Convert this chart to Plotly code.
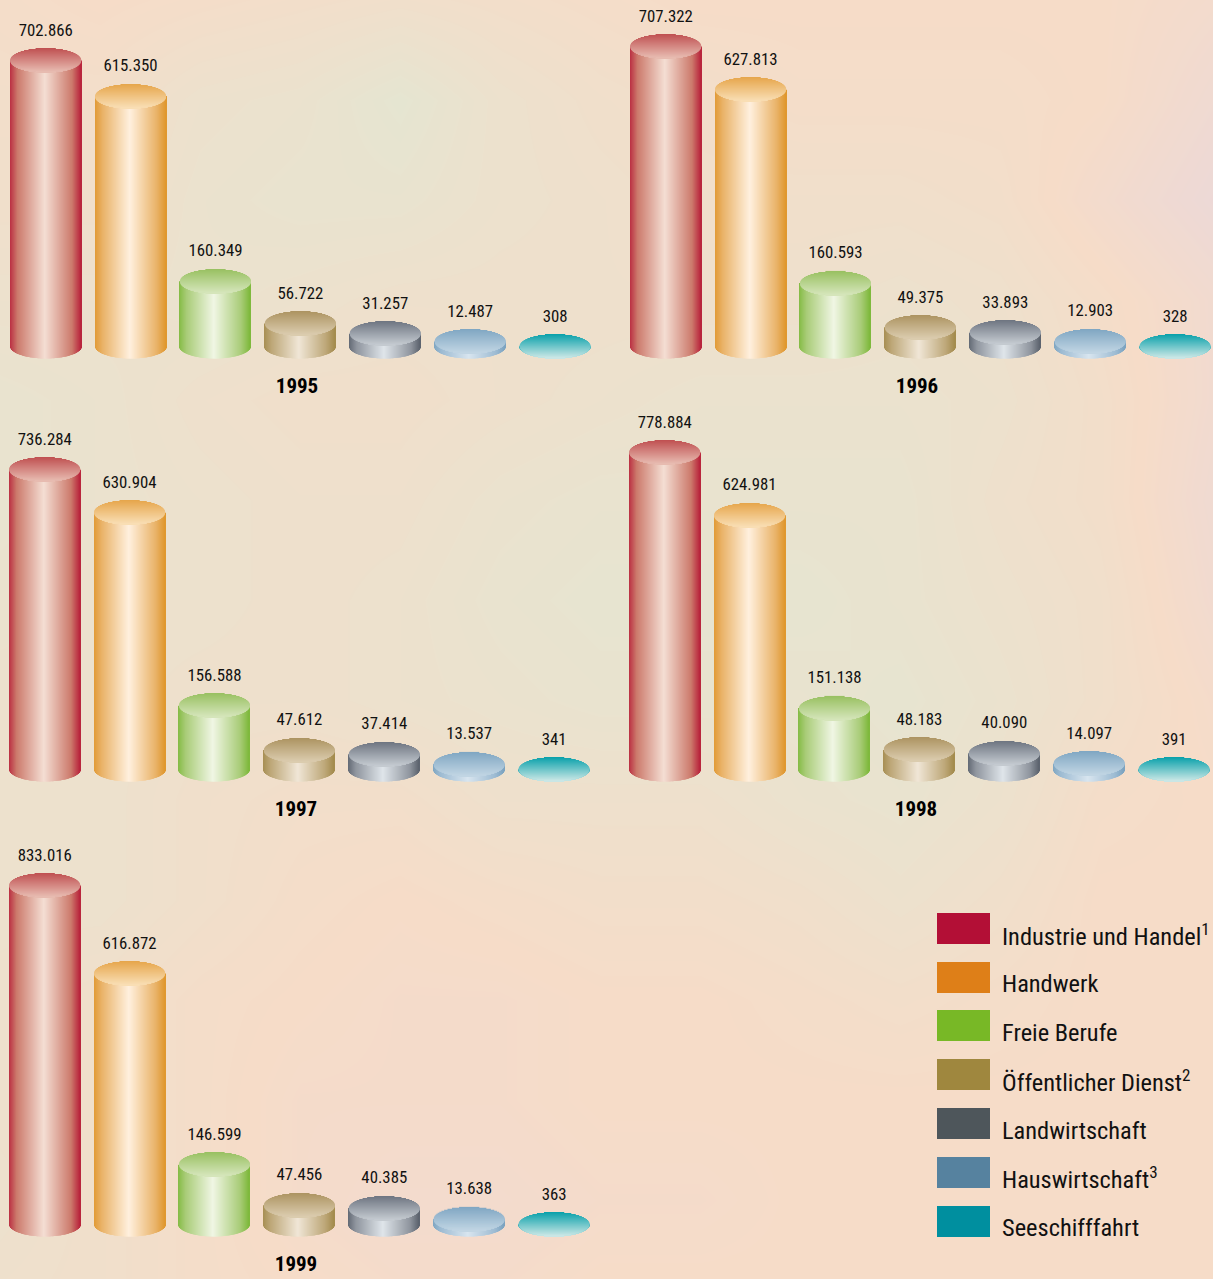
import plotly.graph_objects as go

W, H = 1213, 1279
FONT = "Roboto Condensed, Open Sans Condensed, DejaVu Sans Condensed, Liberation Sans, sans-serif"

YEARS = [1995, 1996, 1997, 1998, 1999]
CATEGORIES = ["Industrie und Handel", "Handwerk", "Freie Berufe", "Öffentlicher Dienst",
              "Landwirtschaft", "Hauswirtschaft", "Seeschifffahrt"]
LEGEND_SUP = ["1", "", "", "2", "", "3", ""]
V1995 = [702866, 615350, 160349, 56722, 31257, 12487, 308]
V1996 = [707322, 627813, 160593, 49375, 33893, 12903, 328]
V1997 = [736284, 630904, 156588, 47612, 37414, 13537, 341]
V1998 = [778884, 624981, 151138, 48183, 40090, 14097, 391]
V1999 = [833016, 616872, 146599, 47456, 40385, 13638, 363]
# The reference draws the 1996 Industrie cylinder taller than its printed value;
# this is the height, the label keeps the printed number.
DRAWN_1996 = [737000, 631000, 156000, 47000, 33893, 12903, 328]

EDGE = ["#b8213a", "#e0962c", "#7db83a", "#a38a4c", "#5a616c", "#7aa2bf", "#0c9aa6"]
MID = ["#cc7a6c", "#e9b267", "#a9cc78", "#bda778", "#8f959e", "#9dbbd2", "#5cb8c0"]
LIGHT = ["#f4ded3", "#fff0de", "#f0f6e4", "#f0e6d6", "#dfe5ea", "#d8e5ef", "#d4ebec"]
TOP_A = ["#bf4f50", "#e6a54a", "#98c060", "#ac9360", "#6d7480", "#7fa6c2", "#08a0aa"]
TOP_B = ["#e8bdb2", "#f9dfb6", "#d6e6bc", "#dccdb0", "#c6ccd2", "#c2d6e4", "#cde8e6"]
LEGEND_COL = ["#b30f36", "#de7f18", "#78b826", "#9f873e", "#4e565b", "#56829f", "#008f9f"]

BG_X = [0, 100, 200, 300, 400, 500, 600, 700, 800, 900, 1000, 1100, 1213]
BG_Y = [0, 100, 200, 300, 400, 500, 600, 700, 800, 900, 1000, 1100, 1200, 1279]
BG_Z = [
    [.1, .0, .1, .2, .3, .2, .1, 0, 0, 0, 0, 0, -.2],
    [.2, .2, .5, .6, .9, .5, .3, .2, .1, .1, .1, 0, -.4],
    [.3, .3, .6, .7, .7, .5, .4, .3, .3, .3, .2, -.2, -.6],
    [.5, .5, .6, .5, .4, .4, .4, .4, .4, .5, .4, .1, -.3],
    [.7, .6, .4, .3, .3, .4, .5, .6, .6, .6, .5, .2, -.3],
    [.7, .6, .5, .4, .4, .6, .7, .7, .7, .7, .4, .2, -.4],
    [.6, .5, .5, .4, .5, .7, .8, .8, .8, .7, .5, .3, -.3],
    [.5, .5, .4, .4, .5, .6, .7, .7, .7, .8, .6, .3, -.1],
    [.5, .5, .3, .2, .2, .4, .4, .4, .6, .7, .5, .1, 0],
    [.5, .5, .3, .1, 0, .1, .2, .2, .3, .5, .3, 0, 0],
    [.4, .3, .1, 0, -.1, -.1, 0, 0, .1, .2, .1, 0, 0],
    [.4, .3, .1, -.1, -.1, -.1, 0, 0, 0, 0, 0, 0, 0],
    [.5, .3, .1, -.1, -.2, -.2, -.1, -.1, 0, 0, 0, 0, 0],
    [.4, .3, .1, 0, -.1, -.1, 0, 0, 0, 0, 0, 0, 0],
]

# Panel layout: pixel position of the first cylinder centre, the baseline, subplot box
PANELS = [
    dict(vals=V1995, drawn=V1995, c0=45.7, base=346.5, box=(0, 606, 0, 405)),
    dict(vals=V1996, drawn=DRAWN_1996, c0=665.7, base=346.5, box=(606, 1213, 0, 405)),
    dict(vals=V1997, drawn=V1997, c0=44.7, base=769.5, box=(0, 606, 405, 830)),
    dict(vals=V1998, drawn=V1998, c0=664.7, base=769.5, box=(606, 1213, 405, 830)),
    dict(vals=V1999, drawn=V1999, c0=44.7, base=1224.5, box=(0, 606, 830, 1279)),
]
SPACING = 84.9
CYL_W = 71
ELL_B = 12
K = 0.000407  # px per value


def hex2rgb(h):
    return tuple(int(h[i:i + 2], 16) for i in (1, 3, 5))


def mix(a, b, t):
    a, b = hex2rgb(a), hex2rgb(b)
    return "rgb(%d,%d,%d)" % tuple(round(a[i] + (b[i] - a[i]) * t) for i in range(3))


def body_colour(i, shade):
    if shade < .25:
        return mix(EDGE[i], MID[i], shade / .25)
    return mix(MID[i], LIGHT[i], (shade - .25) / .75)


def fmt(v):
    return f"{v:,}".replace(",", ".")


fig = go.Figure()
fig.add_trace(go.Heatmap(
    x=BG_X, y=BG_Y, z=BG_Z, zmin=-1, zmax=1, zsmooth="best", showscale=False, hoverinfo="skip",
    colorscale=[[0, "#e6d6e0"], [.5, "#f6dcc8"], [1, "#e3e6d2"]], xaxis="x", yaxis="y"))

layout_axes = dict(
    xaxis=dict(domain=[0, 1], range=[0, W], visible=False, fixedrange=True),
    yaxis=dict(domain=[0, 1], range=[H, 0], visible=False, fixedrange=True),
)

for n, p in enumerate(PANELS):
    ax = n + 2
    L, R, T, B = p["box"]
    u = SPACING  # px per category step
    yu = 1 / K   # value per px
    sx, sy = f"x{ax}", f"y{ax}"
    layout_axes[f"xaxis{ax}"] = dict(domain=[L / W, R / W], range=[(L - p["c0"]) / u, (R - p["c0"]) / u],
                                     visible=False, fixedrange=True)
    layout_axes[f"yaxis{ax}"] = dict(domain=[1 - B / H, 1 - T / H], range=[(p["base"] - B) * yu, (p["base"] - T) * yu],
                                     visible=False, fixedrange=True)
    bx, by, bb, bw, bc = [], [], [], [], []
    hy, hx, hb, hw, hc = [], [], [], [], []
    half = CYL_W / 2
    for i, v in enumerate(p["drawn"]):
        # cylinder body: vertical slices, bottom follows the lower ellipse edge
        for s in range(CYL_W):
            t = (s + .5) / CYL_W
            xn = 2 * t - 1
            low = ELL_B * (1 - xn * xn) ** .5
            shade = 1 - abs((t - .49) / .51)
            bx.append(i + (s + .5 - half) / u)
            bb.append(-low * yu)
            by.append(v + low * yu)
            bw.append(1.05 / u)
            bc.append(body_colour(i, shade))
        # top ellipse: horizontal bands with a vertical gradient
        for r in range(2 * ELL_B):
            yn = (r + .5 - ELL_B) / ELL_B
            hwid = half * (1 - yn * yn) ** .5
            hy.append(v - yn * ELL_B * yu)
            hb.append(i - hwid / u)
            hx.append(2 * hwid / u)
            hw.append(1.15 * yu)
            hc.append(mix(TOP_A[i], TOP_B[i], (r + .5) / (2 * ELL_B)))
    fig.add_trace(go.Bar(x=bx, y=by, base=bb, width=bw, marker=dict(color=bc, line=dict(width=0)),
                         xaxis=sx, yaxis=sy, hoverinfo="skip", showlegend=False))
    fig.add_trace(go.Bar(orientation="h", y=hy, x=hx, base=hb, width=hw, marker=dict(color=hc, line=dict(width=0)),
                         xaxis=sx, yaxis=sy, hoverinfo="skip", showlegend=False))
    fig.add_trace(go.Scatter(
        x=list(range(7)), y=[d + 29 * yu for d in p["drawn"]], text=[fmt(v) for v in p["vals"]],
        mode="text", textposition="middle center", textfont=dict(family=FONT, size=16.8, color="#111111"),
        xaxis=sx, yaxis=sy, hoverinfo="skip", showlegend=False))
    fig.add_trace(go.Scatter(
        x=[2.96], y=[-41.5 * yu], text=[f"<b>{YEARS[n]}</b>"], mode="text", textposition="middle center",
        textfont=dict(family=FONT, size=21, color="#000000"),
        xaxis=sx, yaxis=sy, hoverinfo="skip", showlegend=False))

LEG_Y = [913, 962, 1010, 1059, 1108, 1157, 1206]
LEG_TXT_Y = [935, 983, 1032, 1081, 1130, 1178, 1227]
shapes, annos = [], []
for i, name in enumerate(CATEGORIES):
    shapes.append(dict(type="rect", xref="paper", yref="paper", x0=937 / W, x1=990 / W,
                       y0=1 - (LEG_Y[i] + 31) / H, y1=1 - LEG_Y[i] / H,
                       fillcolor=LEGEND_COL[i], line=dict(width=0)))
    label = name + (f"<sup>{LEGEND_SUP[i]}</sup>" if LEGEND_SUP[i] else "")
    annos.append(dict(xref="paper", yref="paper", x=1000 / W, y=1 - LEG_TXT_Y[i] / H, text=label,
                      xanchor="left", yanchor="middle", showarrow=False,
                      font=dict(family=FONT, size=24.4, color="#111111")))

fig.update_layout(
    width=W, height=H, margin=dict(l=0, r=0, t=0, b=0), paper_bgcolor="#f6dcc8", plot_bgcolor="rgba(0,0,0,0)",
    showlegend=False, barmode="overlay", shapes=shapes, annotations=annos, **layout_axes)

fig.write_html("out.html", config={"displayModeBar": False},
               post_script="document.body.style.margin='0';")
